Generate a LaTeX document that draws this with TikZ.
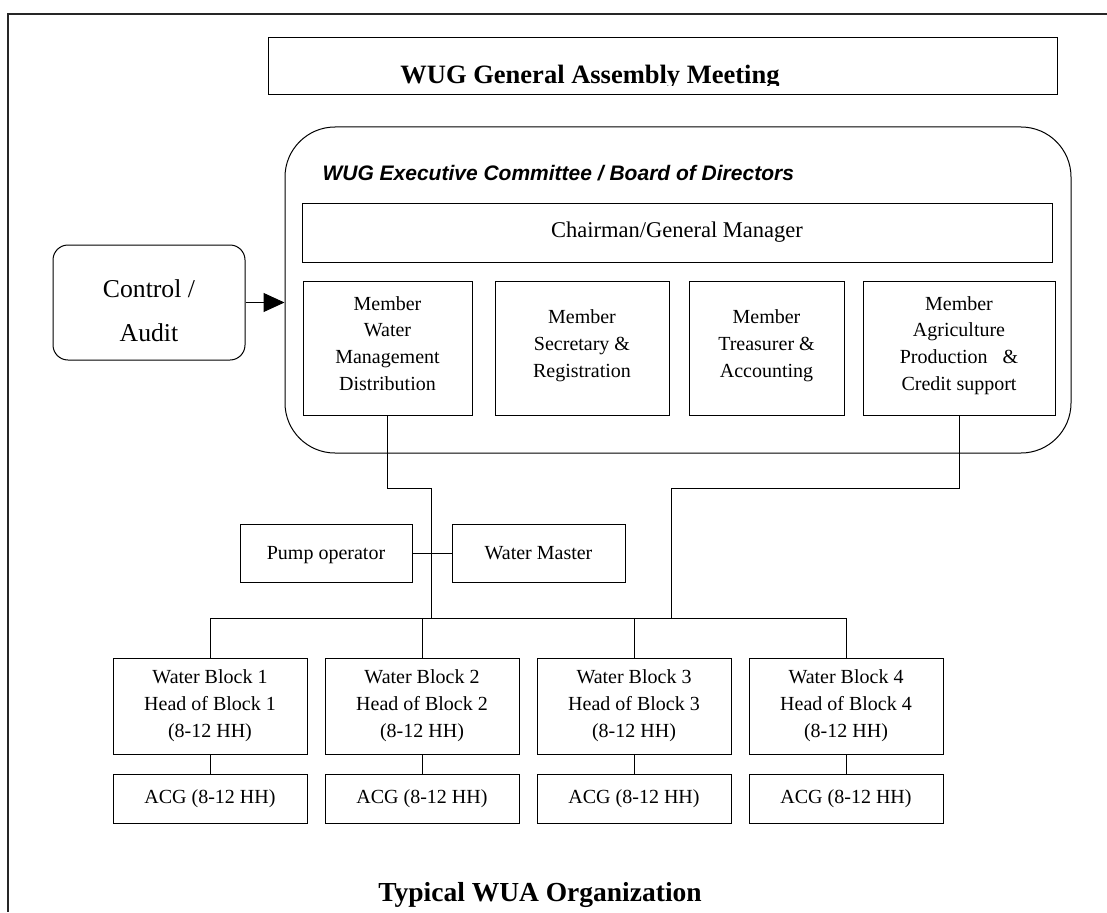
\documentclass[tikz,border=0pt]{standalone}
\usepackage{fontspec}
\setmainfont{Liberation Serif}
\newfontfamily\arialfont{Liberation Sans}
\usetikzlibrary{positioning,arrows.meta}

\begin{document}
\begin{tikzpicture}[x=1pt, y=-1pt,
    bloc/.style={draw, line width=1pt, inner sep=0pt,
        font=\fontsize{20}{26.9}\selectfont, align=center},
    rbloc/.style={bloc, rounded corners=15pt},
    member/.style={bloc, minimum height=134pt, text depth=9pt},
    wblock/.style={bloc, minimum width=194pt, minimum height=96pt},
    acg/.style={bloc, minimum width=194pt, minimum height=49pt},
    wire/.style={line width=1pt},
    bigtxt/.style={font=\bfseries\fontsize{26.5}{30}\selectfont},
    node distance = 17pt
    ]
    \useasboundingbox (0,0) rectangle (1107,912);
    % page frame, cut at right and bottom
    \draw[line width=1.6pt, black!85] (1107,14) -- (8,14) -- (8,912);

    % general assembly
    \node[bloc, minimum width=789pt, minimum height=57pt] (assembly) at (662.5,66.5) {};
    \begin{scope}
        \clip (assembly.north west) rectangle (1057,86);
        \node[bigtxt, anchor=base] (gam) at (590,84) {WUG General Assembly Meeting};
    \end{scope}

    % executive committee
    \node[bloc, rounded corners=50pt, minimum width=786pt, minimum height=326pt] (exec) at (678,290) {};
    \node[anchor=base west, font=\arialfont\bfseries\itshape\fontsize{21}{24}\selectfont]
        (exectitle) at (319,181) {WUG Executive Committee / Board of Directors};
    \node[bloc, minimum width=750pt, minimum height=59pt, font=\fontsize{22.5}{26}\selectfont]
        (chair) at (677,232.5) {Chairman/General Manager};
    \node[member, minimum width=169pt] (m1) at (387.5,348) {Member\\Water\\Management\\Distribution};
    \node[member, minimum width=174pt, right=22pt of m1] (m2) {Member\\Secretary \&\\Registration};
    \node[member, minimum width=155pt, right=19pt of m2] (m3) {Member\\Treasurer \&\\Accounting};
    \node[member, minimum width=192pt, right=18pt of m3] (m4) {Member\\Agriculture\\Production\ \ \ \&\\Credit support};

    % control
    \node[rbloc, minimum width=192pt, minimum height=115pt,
        label={[font=\fontsize{25.7}{44}\selectfont, align=center, yshift=-8pt]center:Control /\\Audit}]
        (ctrl) at (149,302.5) {};
    \draw[wire, -{Triangle[length=21pt,width=19pt]}] (ctrl.east) -- (ctrl.east -| exec.west);

    % operators
    \node[bloc, minimum width=172pt, minimum height=58pt, text depth=0pt] (pump) at (326,553) {Pump operator};
    \node[bloc, minimum width=173pt, minimum height=58pt, text depth=0pt, right=39pt of pump] (master) {Water Master};

    % water blocks
    \node[wblock] (wb1) at (210,706) {Water Block 1\\Head of Block 1\\(8-12 HH)};
    \node[wblock, right=of wb1] (wb2) {Water Block 2\\Head of Block 2\\(8-12 HH)};
    \node[wblock, right=of wb2] (wb3) {Water Block 3\\Head of Block 3\\(8-12 HH)};
    \node[wblock, right=of wb3] (wb4) {Water Block 4\\Head of Block 4\\(8-12 HH)};
    \node[acg, below=19pt of wb1] (acg1) {ACG (8-12 HH)};
    \node[acg, below=19pt of wb2] (acg2) {ACG (8-12 HH)};
    \node[acg, below=19pt of wb3] (acg3) {ACG (8-12 HH)};
    \node[acg, below=19pt of wb4] (acg4) {ACG (8-12 HH)};

    % connectors
    \coordinate (bus) at (431,618);
    \coordinate (jl) at (431,488);
    \coordinate (jr) at (671,488);
    \draw[wire] (m1.south) |- (jl) -- (bus);
    \draw[wire] (m4.south) |- (jr) -- (jr |- bus);
    \draw[wire] (pump) -- (master);
    \draw[wire] (wb1.north |- bus) -- (wb4.north |- bus);
    \draw[wire] (wb1.north) -- (wb1.north |- bus);
    \draw[wire] (wb2.north) -- (wb2.north |- bus);
    \draw[wire] (wb3.north) -- (wb3.north |- bus);
    \draw[wire] (wb4.north) -- (wb4.north |- bus);
    \draw[wire] (wb1) -- (acg1);
    \draw[wire] (wb2) -- (acg2);
    \draw[wire] (wb3) -- (acg3);
    \draw[wire] (wb4) -- (acg4);

    \node[font=\bfseries\fontsize{27.5}{30}\selectfont, anchor=base] (caption) at (540,901) {Typical WUA Organization};
\end{tikzpicture}
\end{document}
